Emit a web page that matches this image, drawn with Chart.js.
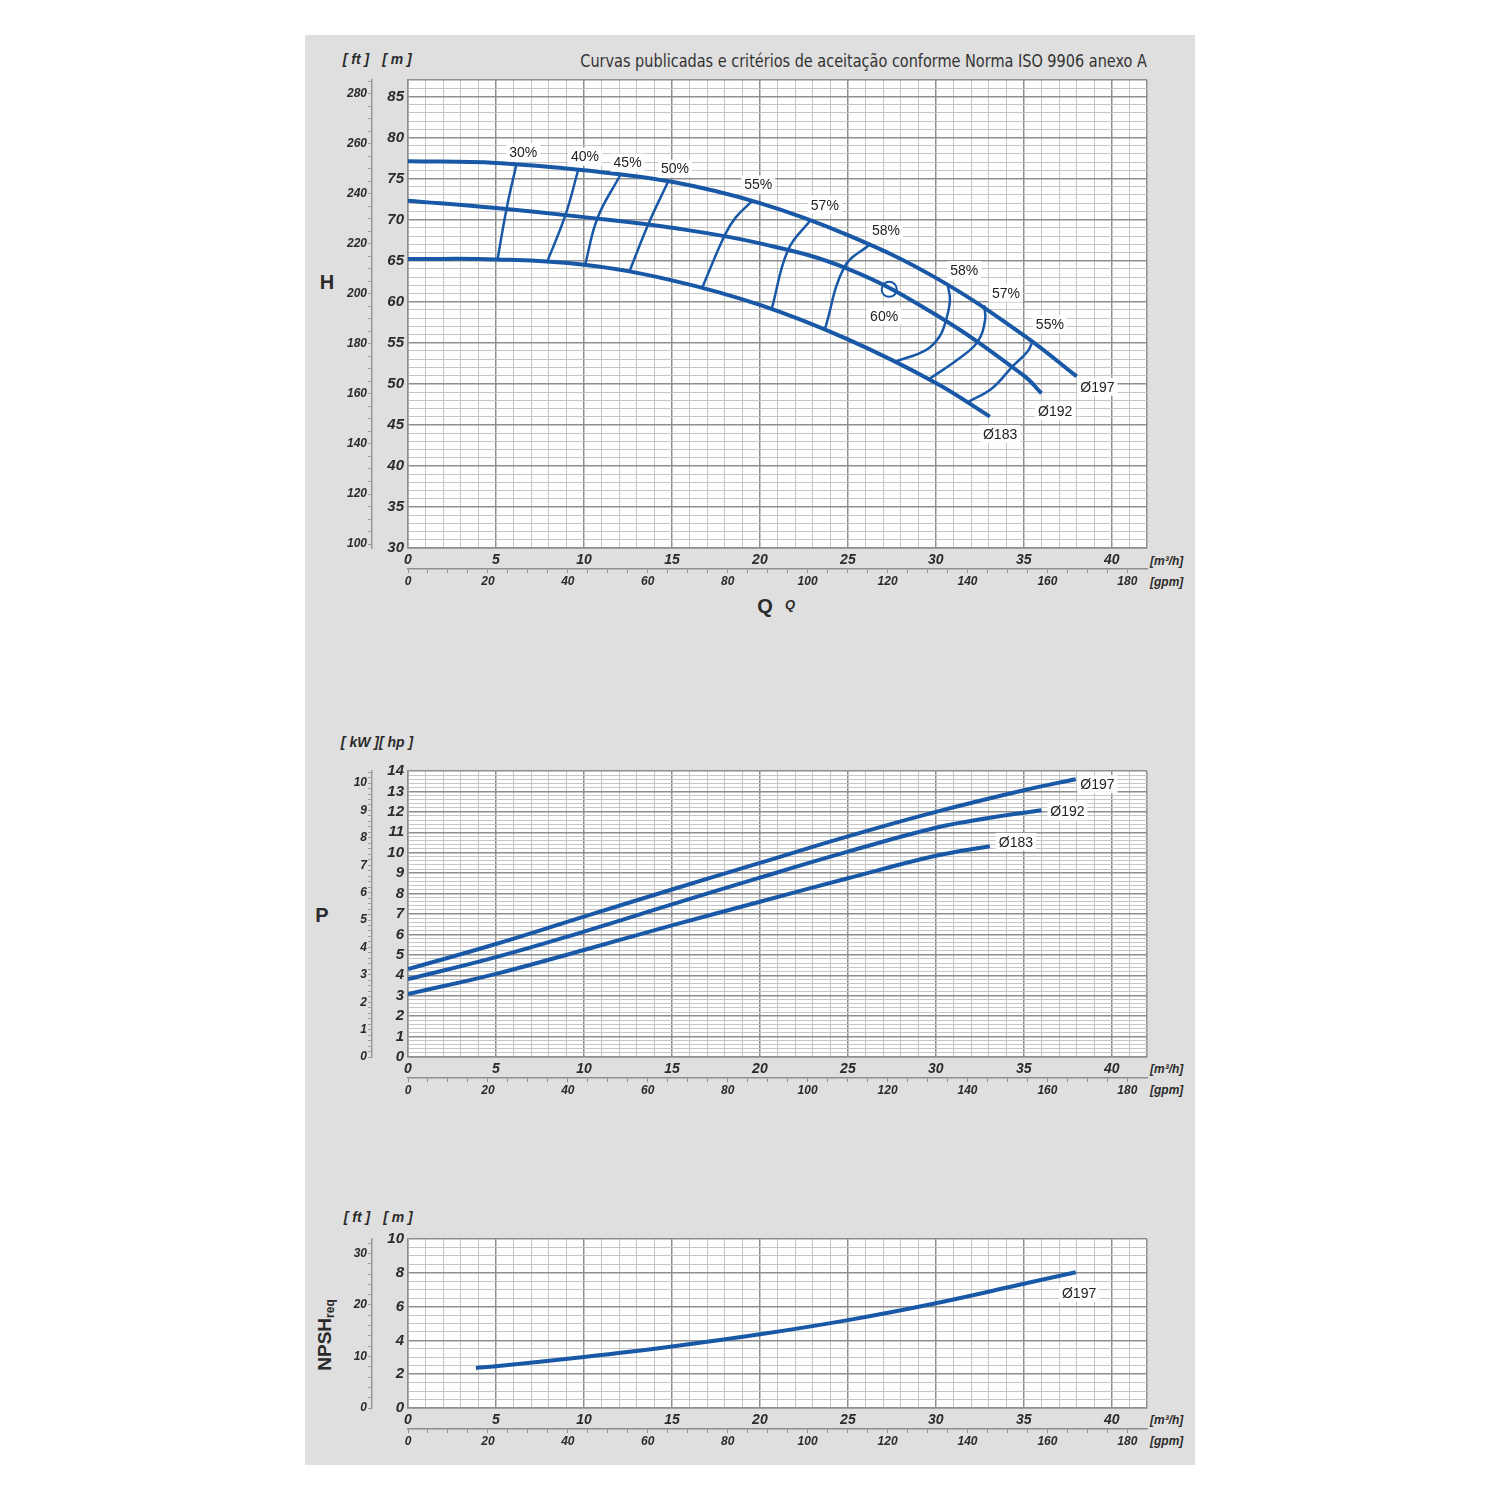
<!DOCTYPE html>
<html>
<head>
<meta charset="utf-8">
<script src="https://cdn.jsdelivr.net/npm/chart.js@4.4.1/dist/chart.umd.min.js"></script>
<style>
  body { margin: 0; background: #fff; font-family: 'Liberation Sans', Arial, sans-serif; }
  #page { position: relative; width: 1500px; height: 1500px; overflow: hidden; }
  #panel { position: absolute; left: 305px; top: 35px; width: 890px; height: 1430px; background: #dfdfdf; }
  canvas { position: absolute; left: 305px; }
  .t { position: absolute; white-space: nowrap; color: #2b2b2b; transform: translate(-50%, -50%); }
  .hdr { font: italic bold 14px 'Liberation Sans', Arial, sans-serif; }
  .unit { font: italic bold 12px 'Liberation Sans', Arial, sans-serif; transform: translate(0, -50%); }
  .big { font: bold 20px 'Liberation Sans', Arial, sans-serif; }
  .small { font: italic bold 13px 'Liberation Sans', Arial, sans-serif; }
  #title { font: 17px 'Liberation Sans Narrow', 'DejaVu Sans Condensed', 'Roboto Condensed', sans-serif; color: #333;
           left: auto; right: 353px; transform-origin: right center; transform: translate(0, -50%) scaleX(0.946); }
  #npsh { font: bold 19px 'Liberation Sans', Arial, sans-serif; transform: translate(-50%, -50%) rotate(-90deg); }
  #npsh sub { font-size: 12px; vertical-align: -3px; }
</style>
</head>
<body>
<div id="page">
  <div id="panel"></div>

  <div class="t hdr" style="left:356px; top:59px">[ ft ]</div>
  <div class="t hdr" style="left:397px; top:59px">[ m ]</div>
  <div class="t" id="title" style="top:61px">Curvas publicadas e critérios de aceitação conforme Norma ISO 9906 anexo A</div>
  <div class="t big" style="left:327px; top:282px">H</div>
  <div class="t unit" style="left:1150px; top:561px">[m³/h]</div>
  <div class="t unit" style="left:1150px; top:582px">[gpm]</div>
  <div class="t big" style="left:765px; top:606px">Q</div>
  <div class="t small" style="left:790px; top:604px">Q</div>

  <div class="t hdr" style="left:377px; top:742px">[ kW ][ hp ]</div>
  <div class="t big" style="left:322px; top:915px">P</div>
  <div class="t unit" style="left:1150px; top:1069px">[m³/h]</div>
  <div class="t unit" style="left:1150px; top:1090px">[gpm]</div>

  <div class="t hdr" style="left:357px; top:1217px">[ ft ]</div>
  <div class="t hdr" style="left:398px; top:1217px">[ m ]</div>
  <div class="t" id="npsh" style="left:325px; top:1335px">NPSH<sub>req</sub></div>
  <div class="t unit" style="left:1150px; top:1420px">[m³/h]</div>
  <div class="t unit" style="left:1150px; top:1441px">[gpm]</div>

  <canvas id="headChart" width="890" height="520" style="top:75px"></canvas>
  <canvas id="powerChart" width="890" height="343" style="top:761px"></canvas>
  <canvas id="npshChart" width="890" height="226" style="top:1229px"></canvas>
</div>

<script>
const BLUE = '#1858a6';
const MAJOR = '#8e8e8e';
const MINOR = '#c6c6c6';
const INK = '#2b2b2b';
const GPM = 4.40287;     // gpm per m3/h
const FT = 3.28084;      // ft per m
const KW_HP = 0.7457;    // kW per hp

Chart.defaults.font.family = "'Liberation Sans', Arial, sans-serif";

// ---- H(Q) curves [m3/h, m]
const q197 = [0, 5, 10, 15, 20, 25, 30, 35, 38];
const h197 = [77.1, 76.9, 76.0, 74.6, 72.0, 68.1, 62.9, 55.9, 50.9];
const q192 = [0, 5, 10, 15, 20, 25, 30, 35, 36];
const h192 = [72.3, 71.4, 70.3, 69.0, 67.1, 64.0, 58.4, 51.0, 48.85];
const q183 = [0, 5, 10, 15, 20, 25, 30, 33.07];
const h183 = [65.2, 65.15, 64.5, 62.6, 59.6, 55.4, 50.1, 46.0];

// iso-efficiency lines
const e30q = [6.17, 5.6, 5.09],    e30h = [76.8, 71.3, 65.15];
const e40q = [9.68, 8.94, 7.9],    e40h = [76.1, 70.5, 64.8];
const e45q = [12.06, 10.77, 10.07], e45h = [75.4, 70.2, 64.5];
const e50q = [14.8, 13.67, 12.57], e50h = [74.7, 69.5, 63.6];
const e55q = [19.58, 18.64, 18.0, 16.74], e55h = [72.3, 70.3, 68.1, 61.8];
const e57q = [22.86, 21.6, 20.68], e57h = [69.9, 66.3, 59.2];
const e58q = [26.25, 24.8, 23.7],  e58h = [67.0, 64.2, 56.7];
const e58rq = [30.66, 30.8, 30.57, 30.19, 29.43, 27.7], e58rh = [62.2, 60.2, 57.7, 55.7, 54.1, 52.7];
const e57rq = [32.74, 32.8, 32.37, 31.3, 29.6], e57rh = [59.6, 57.8, 55.1, 53.05, 50.55];
const e55rq = [35.49, 35.2, 34.35, 33.2, 31.85], e55rh = [55.1, 53.9, 52.1, 49.46, 47.8];

const bepQ = [27.35], bepH = [61.5];

const pctText = ['30%', '40%', '45%', '50%', '55%', '57%', '58%', '58%', '57%', '55%', '60%'];
const pctQ = [6.55, 10.06, 12.48, 15.17, 19.9, 23.69, 27.16, 31.61, 33.98, 36.48, 27.06];
const pctH = [78.2, 77.67, 76.94, 76.21, 74.27, 71.79, 68.71, 63.85, 61.01, 57.28, 58.29];
const diaText = ['Ø197', 'Ø192', 'Ø183'];
const diaQ = [39.18, 36.78, 33.65];
const diaH = [49.65, 46.7, 43.87];

// ---- P(Q) curves [m3/h, hp]
const qP197 = [0, 5, 10, 15, 20, 25, 30, 35, 37.95];
const p197 = [4.30, 5.53, 6.87, 8.2, 9.5, 10.8, 12.0, 13.06, 13.6];
const qP192 = [0, 5, 10, 15, 20, 25, 30, 33, 36];
const p192 = [3.81, 4.89, 6.14, 7.47, 8.78, 10.05, 11.22, 11.7, 12.08];
const qP183 = [0, 5, 10, 15, 20, 25, 30, 33.07];
const p183 = [3.08, 4.07, 5.24, 6.44, 7.6, 8.75, 9.85, 10.32];
const pLabQ = [39.18, 37.48, 34.55];
const pLabP = [13.35, 12.03, 10.53];

// ---- NPSH(Q) [m3/h, m]
const qN = [3.86, 5, 10, 15, 20, 25, 30, 35, 37.95];
const npsh = [2.37, 2.47, 3.02, 3.64, 4.36, 5.2, 6.2, 7.35, 8.03];
const nLabText = ['Ø197'];
const nLabQ = [38.14];
const nLabN = [6.82];

function isMult(v, s) { return Math.abs(v / s - Math.round(v / s)) < 1e-6; }

// rebuild ticks on every multiple of step inside the scale range
function onStep(step) {
  return scale => {
    const out = [];
    const start = Math.ceil(scale.min / step - 1e-6);
    const end = Math.floor(scale.max / step + 1e-6);
    for (let i = start; i <= end; i++) out.push({ value: +(i * step).toFixed(6) });
    scale.ticks = out;
  };
}

function fixW(w) { return s => { s.width = w; s.paddingTop = 0; s.paddingBottom = 0; }; }
function fixH(h) { return s => { s.height = h; s.paddingLeft = 0; s.paddingRight = 0; }; }

function line(qs, vs, width) {
  return {
    data: qs.map((q, i) => ({ x: q, y: vs[i] })),
    borderColor: BLUE, borderWidth: width, pointRadius: 0,
    showLine: true, tension: 0.4, fill: false
  };
}

const plotBg = {
  id: 'plotBg',
  beforeDraw(chart) {
    const { ctx, chartArea: a } = chart;
    ctx.save();
    ctx.fillStyle = '#fff';
    ctx.fillRect(a.left, a.top, a.right - a.left, a.bottom - a.top);
    ctx.restore();
  }
};

const tags = {
  id: 'tags',
  afterDatasetsDraw(chart, args, opts) {
    const { ctx, scales } = chart;
    ctx.save();
    ctx.font = "14px 'Liberation Sans', Arial, sans-serif";
    ctx.textAlign = 'center';
    ctx.textBaseline = 'middle';
    (opts.items || []).forEach(([texts, qs, vs]) => {
      texts.forEach((t, i) => {
        const x = scales.x.getPixelForValue(qs[i]);
        const y = scales.y.getPixelForValue(vs[i]);
        const w = ctx.measureText(t).width + 6;
        ctx.fillStyle = 'rgba(255,255,255,0.92)';
        ctx.fillRect(x - w / 2, y - 9, w, 18);
        ctx.fillStyle = '#222';
        ctx.fillText(t, x, y + 1);
      });
    });
    ctx.restore();
  }
};

function makeChart(id, c) {
  const gridCol = (step, max) => ctx => (isMult(ctx.tick.value, step) || ctx.tick.value === max) ? MAJOR : MINOR;
  const gridW = (step, max) => ctx => (isMult(ctx.tick.value, step) || ctx.tick.value === max) ? 1.5 : 1;
  return new Chart(document.getElementById(id), {
    type: 'scatter',
    data: { datasets: c.datasets },
    plugins: [plotBg, tags],
    options: {
      responsive: false,
      animation: false,
      layout: { autoPadding: false, padding: { left: 0, right: 48, top: c.padTop, bottom: 0 } },
      plugins: { legend: { display: false }, tooltip: { enabled: false }, tags: { items: c.tags } },
      scales: {
        x: {
          type: 'linear', position: 'bottom', min: 0, max: 42, weight: 0,
          afterFit: fixH(21),
          afterBuildTicks: onStep(1),
          grid: { color: gridCol(5, 42), lineWidth: gridW(5, 42), drawTicks: false },
          border: { color: MAJOR, width: 1.5 },
          ticks: {
            autoSkip: false, maxRotation: 0, padding: 4, color: INK,
            font: { size: 14, weight: 'bold', style: 'italic' },
            callback: v => isMult(v, 5) ? v : ''
          }
        },
        x2: {
          type: 'linear', position: 'bottom', min: 0, max: 42 * GPM, weight: 1,
          afterFit: fixH(26),
          afterBuildTicks: onStep(5),
          grid: { drawOnChartArea: false, drawTicks: true, tickLength: 4, tickColor: MAJOR, tickWidth: 1 },
          border: { color: MAJOR, width: 1.5 },
          ticks: {
            autoSkip: false, maxRotation: 0, padding: 1, color: INK,
            font: { size: 12, weight: 'bold', style: 'italic' },
            callback: v => isMult(v, 20) ? v : ''
          }
        },
        y: {
          type: 'linear', position: 'left', min: c.yMin, max: c.yMax, weight: 0,
          afterFit: fixW(36),
          afterBuildTicks: onStep(c.yMinor),
          grid: { color: gridCol(c.yMajor, c.yMax), lineWidth: gridW(c.yMajor, c.yMax), drawTicks: false },
          border: { color: MAJOR, width: 1.5 },
          ticks: {
            autoSkip: false, padding: 4, color: INK,
            font: { size: 15, weight: 'bold', style: 'italic' },
            callback: v => isMult(v, c.yMajor) ? v : ''
          }
        },
        y2: {
          type: 'linear', position: 'left', min: c.y2Min, max: c.y2Max, weight: 1,
          afterFit: fixW(67),
          afterBuildTicks: onStep(c.y2Minor),
          grid: { drawOnChartArea: false, drawTicks: true, tickLength: 4, tickColor: '#9a9a9a', tickWidth: 1 },
          border: { color: '#9a9a9a', width: 1.5 },
          ticks: {
            autoSkip: false, padding: 1, color: INK,
            font: { size: 12, weight: 'bold', style: 'italic' },
            callback: v => isMult(v, c.y2Major) ? v : ''
          }
        }
      }
    }
  });
}

// H chart
const bep = {
  data: bepQ.map((q, i) => ({ x: q, y: bepH[i] })),
  pointRadius: 7.5, pointBackgroundColor: '#fff', pointBorderColor: BLUE, pointBorderWidth: 2, showLine: false
};
makeChart('headChart', {
  padTop: 5, yMin: 30, yMax: 87, yMinor: 1, yMajor: 5,
  y2Min: 30 * FT, y2Max: 87 * FT, y2Minor: 5, y2Major: 20,
  datasets: [
    line(e30q, e30h, 2.5), line(e40q, e40h, 2.5), line(e45q, e45h, 2.5), line(e50q, e50h, 2.5),
    line(e55q, e55h, 2.5), line(e57q, e57h, 2.5), line(e58q, e58h, 2.5),
    line(e58rq, e58rh, 2.5), line(e57rq, e57rh, 2.5), line(e55rq, e55rh, 2.5),
    line(q197, h197, 4), line(q192, h192, 4), line(q183, h183, 4),
    bep
  ],
  tags: [[pctText, pctQ, pctH], [diaText, diaQ, diaH]]
});

// P chart
makeChart('powerChart', {
  padTop: 10, yMin: 0, yMax: 14, yMinor: 0.2, yMajor: 1,
  y2Min: 0, y2Max: 14 * KW_HP, y2Minor: 0.2, y2Major: 1,
  datasets: [line(qP197, p197, 4), line(qP192, p192, 4), line(qP183, p183, 4)],
  tags: [[diaText, pLabQ, pLabP]]
});

// NPSH chart
makeChart('npshChart', {
  padTop: 10, yMin: 0, yMax: 10, yMinor: 0.5, yMajor: 2,
  y2Min: 0, y2Max: 10 * FT, y2Minor: 2, y2Major: 10,
  datasets: [line(qN, npsh, 4)],
  tags: [[nLabText, nLabQ, nLabN]]
});
</script>
</body>
</html>
